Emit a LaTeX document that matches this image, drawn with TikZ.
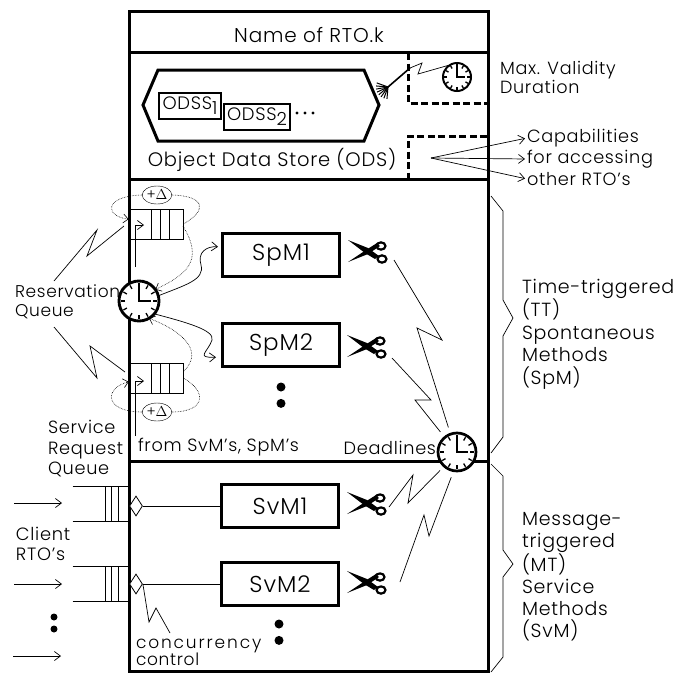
\documentclass[tikz,border=0pt]{standalone}
\usepackage{fontspec}
\setmainfont{Poppins}[UprightFont=* Light, LetterSpace=4]
\usepackage{tikz}
\usetikzlibrary{arrows.meta,positioning,calc,shapes.geometric}
\newcommand{\lowr}[1]{\raisebox{-5pt}{#1}}
\tikzset{
  lbl/.style 2 args={inner sep=0pt, outer sep=0pt, anchor=west, align=left, font=\fontsize{#1}{#2}\selectfont},
  wall/.style={line width=3pt},
  dashwall/.style={line width=3pt, dash pattern=on 7pt off 3.5pt},
  methodbox/.style={rectangle, draw, line width=3pt, minimum width=117pt, minimum height=43pt, inner sep=0pt, font=\fontsize{23}{25}\selectfont},
  odsbox/.style={rectangle, draw, line width=2pt, inner sep=0pt, minimum height=26pt, font=\fontsize{18}{20}\selectfont},
  zig/.style={line width=0.7pt},
  arrow/.style={-{Straight Barb[length=6pt,width=9pt]}, line width=0.7pt},
  dotcurve/.style={line width=0.6pt, densely dotted},
  dotcurvea/.style={dotcurve, -{Straight Barb[length=5pt,width=9pt]}},
  deltaoval/.style={ellipse, draw, inner sep=0pt, minimum width=27pt, minimum height=18pt, font=\fontsize{14}{16}\selectfont},
  diam/.style={diamond, draw, line width=0.8pt, fill=white, inner sep=0pt, minimum width=13pt, minimum height=20pt},
  bigdot/.style={circle, fill, inner sep=0pt, minimum size=9pt},
  resq/.style={rectangle, draw, line width=0.7pt, minimum width=54pt, minimum height=30pt, inner sep=0pt,
    path picture={\foreach \q in {-5,4,13}
      \draw ([xshift=\q pt]path picture bounding box.north) -- ([xshift=\q pt]path picture bounding box.south);}},
  svcq/.style={rectangle, minimum width=55pt, minimum height=35pt, inner sep=0pt, outer sep=0pt},
  clock/.style={circle, draw, fill=white, inner sep=0pt, outer sep=0pt, line width=#1/7 pt, minimum size=2*#1 pt,
    path picture={
      \draw[line width=1.2pt] ([shift={(0,-#1*0.7)}]path picture bounding box.center) -- (path picture bounding box.center) -- ([shift={(#1*0.6,0)}]path picture bounding box.center);
    }},
  shears/.pic={
    \fill (0,-11) -- (20,-3) -- (31,5) -- (27,8) -- (17,2) -- cycle;
    \fill (0,11) -- (18,-1) -- (29,-8) -- (32,-5) -- (20,3) -- cycle;
    \draw[line width=2.2pt] (33,-5) circle[x radius=4.5, y radius=3.6];
    \draw[line width=2.2pt] (34,8) circle[x radius=4.5, y radius=3.6];
  },
}
\begin{document}
\begin{tikzpicture}[x=1pt,y=-1pt]
\useasboundingbox (0,0) rectangle (683,673);

% frame of the object
\draw[wall] (129,11) rectangle (488,671);
\draw[wall] (129,52) -- (488,52);
\draw[wall] (129,179) -- (488,179);
\draw[wall] (129,461) -- (488,461);
\draw[dashwall] (408,53) -- (408,103) -- (487,103);
\draw[dashwall] (487,136) -- (408,136) -- (408,178);

\node[lbl={20}{22}, anchor=center] (title) at (309,35) {Name of RTO.k};

% data store
\draw[line width=3pt] (143,105) -- (158,70) -- (364,70) -- (379,105) -- (364,141) -- (158,141) -- cycle;
\node[odsbox, minimum width=62pt] (odss1) at (190,106) {ODSS\lowr{1}};
\node[odsbox, minimum width=66pt] (odss2) at (257,117) {ODSS\lowr{2}};
\foreach \x in {297,305,313} \fill (\x,113) circle (1.6);
\node[lbl={19.5}{22}, anchor=center] (odslbl) at (272,160) {Object Data Store (ODS)};

\node[clock=14] (valclk) at (457,77) {};
\coordinate (fan) at (388,87);
\draw[line width=1.6pt] (fan) -- (410,68);
\foreach \a in {95,110,...,200} \draw[line width=1pt] (fan) -- ++(\a:12);
\draw[zig] (410,68) -- (422,63) -- (418,74) -- (valclk.120);
\node[lbl={17.6}{19}] (maxval) at (500,77) {Max. Validity\\Duration};

\coordinate (capsrc) at (431,158);
\node[lbl={17.7}{20}] (capa) at (527,138) {Capabilities};
\node[lbl={17.7}{20}] (foracc) at (527,159) {for accessing};
\node[lbl={17.7}{20}] (other) at (527,179) {other RTO's};
\draw[arrow, shorten >=2pt] (capsrc) -- (capa.west);
\draw[arrow, shorten >=2pt] (capsrc) -- (foracc.west);
\draw[arrow, shorten >=2pt] (capsrc) -- (other.west);

% methods
\node[methodbox] (spm1) at (281,255) {SpM1};
\node[methodbox, below=44pt of spm1] (spm2) {SpM2};
\node[methodbox] (svm1) at (280,506) {SvM1};
\node[methodbox, below=32pt of svm1] (svm2) {SvM2};
\node[bigdot] (dota) at (281,387) {};
\node[bigdot, below=7pt of dota] (dotb) {};
\node[bigdot] (dotc) at (279,624) {};
\node[bigdot, below=7pt of dotc] (dotd) {};

\pic at (348,251) {shears};
\pic at (347,346) {shears};
\pic at (347,503) {shears};
\pic at (347,582) {shears};

% reservation queues
\node[resq] (resa) at (156,224) {};
\node[resq] (resb) at (156,378) {};
\node[deltaoval] (dlta) at (157,195) {+$\Delta$};
\node[deltaoval] (dltb) at (157,412) {+$\Delta$};
\draw[dotcurvea] (dlta.west) .. controls (104,196) and (104,216) .. (resa.170);
\draw[dotcurve] (dlta.east) .. controls (205,196) and (208,210) .. (resa.east);
\draw[dotcurvea] (dltb.west) .. controls (104,412) and (104,388) .. (resb.188);
\draw[dotcurve] (dltb.east) .. controls (205,412) and (208,392) .. (resb.east);

\node[clock=20] (resclk) at (139,301) {};
\node[clock=19] (dlclk) at (457,452) {};
% clock ticks
\foreach \c/\r in {valclk/14,resclk/20,dlclk/19}
  \foreach \t in {0,30,...,330}
    \draw[line width=1.3pt] (\c.center) ++(\t:\r*0.70) -- ++(\t:\r*0.2);

\draw[arrow] (135,267) -- (135,225) -- (144,225);
\draw[arrow] (135,436) -- (135,381) -- (144,381);
\draw[dotcurvea] (183,226) .. controls (205,262) and (185,275) .. (resclk.35);
\draw[dotcurvea] (184,371) .. controls (205,350) and (180,330) .. (resclk.-60);
\draw[arrow, shorten >=3pt] (resclk.15) .. controls (185,285) and (205,280) .. (201,265) .. controls (197,252) and (207,246) .. (spm1.west |- 0,247);
\draw[arrow, shorten >=5pt] (resclk.-40) .. controls (185,322) and (215,330) .. (212,340) .. controls (208,352) and (195,358) .. (spm2.west |- 0,357);

\coordinate (zla) at (54,281);
\coordinate (zlb) at (54,327);
\draw[zig] (zla) -- (97,230) -- (87,256) -- (124,226);
\draw[zig] (zlb) -- (97,378) -- (90,346) -- (125,372);

\node[lbl={17}{19}] (resv) at (15,302) {Reservation\\Queue};
\node[lbl={17.7}{20.5}] (svrq) at (48,449) {Service\\Request\\Queue};
\node[lbl={17.7}{20}] (fromlbl) at (138,447) {from SvM's, SpM's};
\node[lbl={17.7}{20}, anchor=east] (ddl) at (436,448) {Deadlines};

% deadline links
\coordinate (zda) at (394,260);
\coordinate (zdb) at (392,358);
\coordinate (zdc) at (389,507);
\coordinate (zdd) at (400,582);
\draw[zig, shorten >=7pt] (zda) -- (442,340) -- (417,328) -- (dlclk.110);
\draw[zig, shorten >=7pt] (zdb) -- (431,400) -- (415,400) -- (dlclk.130);
\draw[zig, shorten >=6pt] (zdc) -- (413,475) -- (408,503) -- (dlclk.-132);
\draw[zig, shorten >=7pt] (zdd) -- (424,515) -- (429,536) -- (dlclk.-100);

% service queues
\node[svcq] (sqa) at (100,503.5) {};
\node[svcq] (sqb) at (100,584) {};
\foreach \q in {sqa,sqb} {
  \draw[zig] (\q.north west) -- (\q.north east);
  \draw[zig] (\q.south west) -- (\q.south east);
  \foreach \s in {5,11,18} \draw[zig] ([xshift=\s pt]\q.north) -- ([xshift=\s pt]\q.south);
}
\node[diam] (cca) at (136,506) {};
\node[diam] (ccb) at (136,584) {};
\draw[zig] (cca.east) -- (svm1.west);
\draw[zig] (ccb.east) -- (svm2.west |- ccb.east);

\coordinate (ina) at (14,503);
\coordinate (inb) at (14,584);
\coordinate (inc) at (13,656);
\draw[arrow] (ina) -- (62,503);
\draw[arrow] (inb) -- (62,584);
\draw[arrow] (inc) -- (61,656);
\node[bigdot, minimum size=7pt] (dote) at (54,617) {};
\node[bigdot, minimum size=7pt] (dotf) at (54,629) {};
\node[lbl={17.8}{20}] (client) at (16,544) {Client\\RTO's};

\coordinate (zcc) at (170,633);
\draw[zig] (ccb.east) -- (149,622) -- (156,608) -- (zcc);
\node[lbl={17}{17}] (ccl) at (136,652) {\addfontfeature{LetterSpace=11}concurrency\\control};

% braces and side labels
\draw[zig] (491,196) -- (503,211) -- (503,300) -- (513,318) -- (503,336) -- (503,437) -- (491,453);
\draw[zig] (491,464) -- (503,476) -- (503,550) -- (513,564) -- (503,577) -- (503,657) -- (491,672);
\node[lbl={19}{22.5}] (ttlbl) at (522,334) {Time-triggered\\(TT)\\Spontaneous\\Methods\\(SpM)};
\node[lbl={19}{22}] (mtlbl) at (522,577) {Message-\\triggered\\(MT)\\Service\\Methods\\(SvM)};
\end{tikzpicture}
\end{document}
